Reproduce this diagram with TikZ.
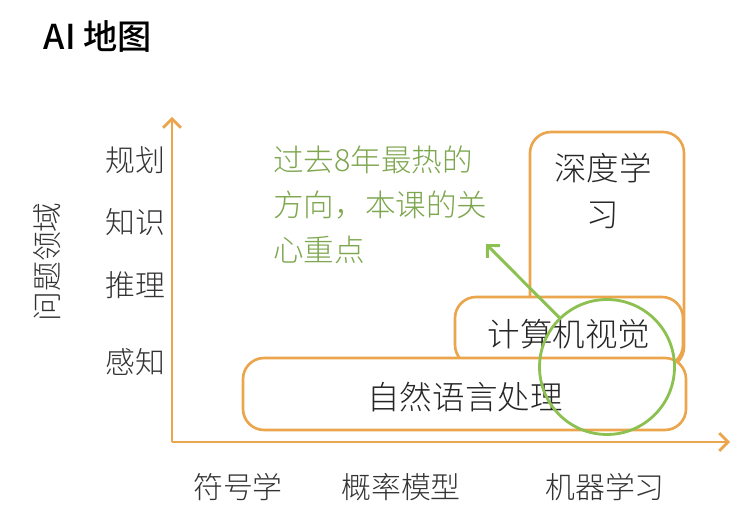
\documentclass[tikz,border=0pt]{standalone}
\usepackage{fontspec}
\setmainfont{Noto Sans CJK SC}
\newfontfamily\lightcjk{Noto Sans CJK SC Light}
\newfontfamily\titlecjk{Noto Sans CJK SC Medium}
\usetikzlibrary{arrows.meta}
\definecolor{aiorange}{HTML}{EBA54C}
\definecolor{aigreen}{HTML}{8CC152}
\definecolor{aitext}{HTML}{7DA64E}
\tikzset{
  axis/.style={draw=aiorange, line width=1.6pt, -{Straight Barb[length=5pt,width=10pt]}},
  field/.style={draw=aiorange, line width=1.5pt, rounded corners=12pt, fill=white},
  lab/.style={text=black!80, inner sep=0pt, font=\lightcjk\fontsize{17}{20}\selectfont},
  boxlab/.style={text=black!85, inner sep=0pt, font=\lightcjk\fontsize{18.5}{26}\selectfont},
}
\begin{document}
\begin{tikzpicture}[x=0.02cm, y=-0.02cm]
  \useasboundingbox (0,0) rectangle (750,516);
  \node[inner sep=0pt, font=\titlecjk\fontsize{19.5}{22}\selectfont] (title) at (98,37) {AI 地图};
  % fields
  \draw[field] (530,132) rectangle (684,368);
  \draw[field] (455,297) rectangle (683,366);
  \draw[field] (243,358) rectangle (686,430);
  \node[boxlab, align=center] (deep) at (603,191) {深度学\\习};
  \node[boxlab] (cv) at (569,334) {计算机视觉};
  \node[boxlab] (nlp) at (465,397) {自然语言处理};
  % axes
  \coordinate (O) at (172,442);
  \coordinate (ytip) at (172,117);
  \coordinate (xtip) at (730,442);
  \draw[axis] (O) -- (ytip);
  \draw[axis] (O) -- (xtip);
  \foreach \y/\t in {160/规划, 222/知识, 285/推理, 362/感知}
    \node[lab] (y\y) at (135,\y) {\t};
  \foreach \x/\t in {238/符号学, 401/概率模型, 605/机器学习}
    \node[lab] (x\x) at (\x,487) {\t};
  \node[lab, rotate=90] (ylabel) at (47,262) {问题领域};
  % focus
  \node[aitext, inner sep=0pt, anchor=west, align=left, font=\lightcjk\fontsize{17.4}{25.5}\selectfont] (note) at (273,205)
    {过去8年最热的\\方向，本课的关\\心重点};
  \node[circle, draw=aigreen, line width=1.6pt, minimum width=2.7cm, minimum height=2.6cm, inner sep=0pt] (focus) at (607,367) {};
  \coordinate (ntip) at (486,244);
  \draw[aigreen, line width=1.7pt, -{Straight Barb[length=5pt,width=10pt]}] (focus.134) -- (ntip);
\end{tikzpicture}
\end{document}
